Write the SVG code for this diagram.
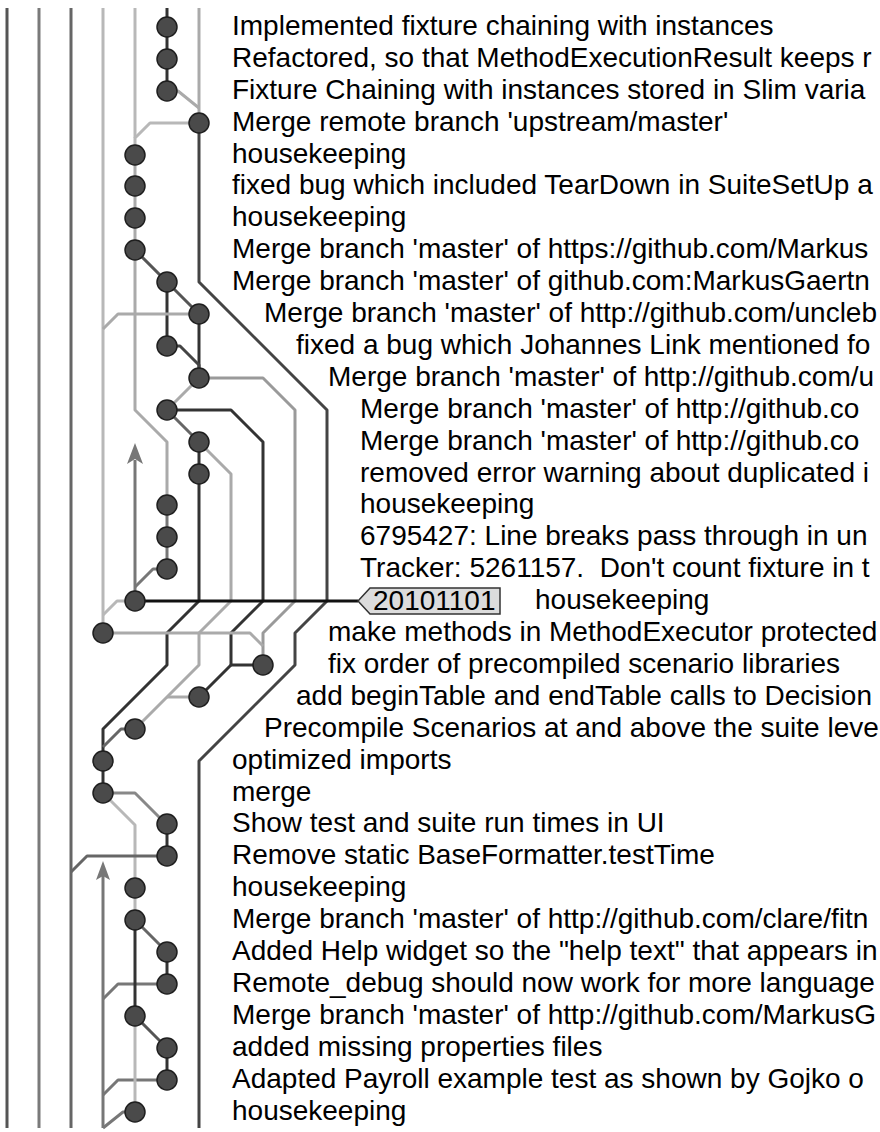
<svg xmlns="http://www.w3.org/2000/svg" width="880" height="1132" viewBox="0 0 880 1132">
<style>
.l{fill:none;stroke-width:3;stroke-linejoin:round;stroke-linecap:butt}
.dk{stroke:#333}
.d2{stroke:#444}
.md{stroke:#666}
.mg{stroke:#777}
.lt{stroke:#aaa}
.dt{stroke:#b8b8b8}
.n{fill:#4a4a4a;stroke:#1e1e1e;stroke-width:1.5}
.t{font-family:"Liberation Sans",Arial,Helvetica,sans-serif;font-size:28px;fill:#000;white-space:pre}
</style>
<rect width="880" height="1132" fill="#fff"/>
<g id="connectors">
<path class="l" stroke="#555" d="M7 8V1128"/>
<path class="l" stroke="#7a7a7a" d="M39 8V1128"/>
<path class="l" stroke="#666" d="M71 8V1128"/>
<path class="l dt" d="M103 8V633"/>
<path class="l dt" d="M103 615L117 601H126"/>
<path class="l dt" d="M135 8V138"/>
<path class="l dt" d="M199 123H150L135 138V155"/>
<path class="l dk" d="M167 8V91"/>
<path class="l lt" d="M199 8V123"/>
<path class="l lt" d="M167 91H178L199 108"/>
<path class="l d2" d="M199 123V282L327 410V601L295 633V665L199 761V1128"/>
<path class="l lt" d="M135 155V410L167 442V505"/>
<path class="l mg" d="M167 505V569"/>
<path class="l" stroke="#555" d="M135 250L199 314"/>
<path class="l dk" d="M167 282V346"/>
<path class="l dk" d="M199 314V378"/>
<path class="l d2" d="M167 346H180L199 365V378"/>
<path class="l lt" d="M103 329L118 314H199"/>
<path class="l" stroke="#9a9a9a" d="M199 378H263L295 410V601L263 633V665"/>
<path class="l lt" d="M199 378L167 410"/>
<path class="l dk" d="M167 410H231L263 442V601L231 633V665H263"/>
<path class="l dk" d="M231 665L199 697"/>
<path class="l md" d="M167 410L199 442"/>
<path class="l lt" d="M199 442L231 474V601L199 633V665L135 729"/>
<path class="l lt" d="M199 697H167"/>
<path class="l dk" d="M199 442V601L167 633V665L103 729V761"/>
<path class="l mg" d="M135 460V601"/>
<polygon fill="#777" points="135,443 143,464 135,459 127,464"/>
<path class="l mg" d="M167 569H153L135 587"/>
<path class="l" stroke="#111" d="M135 601H358"/>
<path class="l lt" d="M103 633H250L263 646"/>
<path class="l md" d="M135 729H121L103 747"/>
<path class="l dk" d="M103 761V793"/>
<path class="l" stroke="#888" d="M103 793H135L167 825"/>
<path class="l dt" d="M103 793L135 825V920"/>
<path class="l dk" d="M167 824V856"/>
<path class="l md" d="M167 856H87L71 872"/>
<path class="l mg" d="M103 875V1128"/>
<polygon fill="#777" points="103,861 110,880 103,876 96,880"/>
<path class="l mg" d="M167 984H118L103 999"/>
<path class="l mg" d="M167 1080H118L103 1095"/>
<path class="l mg" d="M135 1112H123L103 1128"/>
<path class="l md" d="M135 920L167 952"/>
<path class="l dk" d="M135 920V1016"/>
<path class="l dk" d="M167 952V984"/>
<path class="l" stroke="#555" d="M135 1016L167 1048"/>
<path class="l dk" d="M167 1048V1080"/>
<path class="l dt" stroke-width="2" d="M135 1016V1112"/>
</g>
<g id="tag-20101101">
<polygon points="358,601 370,588 500,588 500,614 370,614" fill="#dcdcdc" stroke="#333" stroke-width="1.5"/>
<text class="t" x="373" y="610" font-size="26">20101101</text>
</g>
<g id="n0"><circle class="n" cx="167" cy="27" r="10"/><text class="t" x="232" y="35">Implemented fixture chaining with instances</text></g>
<g id="n1"><circle class="n" cx="167" cy="59" r="10"/><text class="t" x="232" y="67">Refactored, so that MethodExecutionResult keeps r</text></g>
<g id="n2"><circle class="n" cx="167" cy="91" r="10"/><text class="t" x="232" y="99">Fixture Chaining with instances stored in Slim varia</text></g>
<g id="n3"><circle class="n" cx="199" cy="123" r="10"/><text class="t" x="232" y="131">Merge remote branch 'upstream/master'</text></g>
<g id="n4"><circle class="n" cx="135" cy="155" r="10"/><text class="t" x="232" y="163">housekeeping</text></g>
<g id="n5"><circle class="n" cx="135" cy="186" r="10"/><text class="t" x="232" y="194">fixed bug which included TearDown in SuiteSetUp a</text></g>
<g id="n6"><circle class="n" cx="135" cy="218" r="10"/><text class="t" x="232" y="226">housekeeping</text></g>
<g id="n7"><circle class="n" cx="135" cy="250" r="10"/><text class="t" x="232" y="258">Merge branch 'master' of https://github.com/Markus</text></g>
<g id="n8"><circle class="n" cx="167" cy="282" r="10"/><text class="t" x="232" y="290">Merge branch 'master' of github.com:MarkusGaertn</text></g>
<g id="n9"><circle class="n" cx="199" cy="314" r="10"/><text class="t" x="264" y="322">Merge branch 'master' of http://github.com/uncleb</text></g>
<g id="n10"><circle class="n" cx="167" cy="346" r="10"/><text class="t" x="296" y="354">fixed a bug which Johannes Link mentioned fo</text></g>
<g id="n11"><circle class="n" cx="199" cy="378" r="10"/><text class="t" x="328" y="386">Merge branch 'master' of http://github.com/u</text></g>
<g id="n12"><circle class="n" cx="167" cy="410" r="10"/><text class="t" x="360" y="418">Merge branch 'master' of http://github.co</text></g>
<g id="n13"><circle class="n" cx="199" cy="442" r="10"/><text class="t" x="360" y="450">Merge branch 'master' of http://github.co</text></g>
<g id="n14"><circle class="n" cx="199" cy="474" r="10"/><text class="t" x="360" y="482">removed error warning about duplicated i</text></g>
<g id="n15"><circle class="n" cx="167" cy="505" r="10"/><text class="t" x="360" y="513">housekeeping</text></g>
<g id="n16"><circle class="n" cx="167" cy="537" r="10"/><text class="t" x="360" y="545">6795427: Line breaks pass through in un</text></g>
<g id="n17"><circle class="n" cx="167" cy="569" r="10"/><text class="t" x="360" y="577">Tracker: 5261157.  Don't count fixture in t</text></g>
<g id="n18"><circle class="n" cx="135" cy="601" r="10"/><text class="t" x="535" y="609">housekeeping</text></g>
<g id="n19"><circle class="n" cx="103" cy="633" r="10"/><text class="t" x="328" y="641">make methods in MethodExecutor protected</text></g>
<g id="n20"><circle class="n" cx="263" cy="665" r="10"/><text class="t" x="328" y="673">fix order of precompiled scenario libraries</text></g>
<g id="n21"><circle class="n" cx="199" cy="697" r="10"/><text class="t" x="296" y="705">add beginTable and endTable calls to Decision</text></g>
<g id="n22"><circle class="n" cx="135" cy="729" r="10"/><text class="t" x="264" y="737">Precompile Scenarios at and above the suite leve</text></g>
<g id="n23"><circle class="n" cx="103" cy="761" r="10"/><text class="t" x="232" y="769">optimized imports</text></g>
<g id="n24"><circle class="n" cx="103" cy="793" r="10"/><text class="t" x="232" y="801">merge</text></g>
<g id="n25"><circle class="n" cx="167" cy="824" r="10"/><text class="t" x="232" y="832">Show test and suite run times in UI</text></g>
<g id="n26"><circle class="n" cx="167" cy="856" r="10"/><text class="t" x="232" y="864">Remove static BaseFormatter.testTime</text></g>
<g id="n27"><circle class="n" cx="135" cy="888" r="10"/><text class="t" x="232" y="896">housekeeping</text></g>
<g id="n28"><circle class="n" cx="135" cy="920" r="10"/><text class="t" x="232" y="928">Merge branch 'master' of http://github.com/clare/fitn</text></g>
<g id="n29"><circle class="n" cx="167" cy="952" r="10"/><text class="t" x="232" y="960">Added Help widget so the "help text" that appears in</text></g>
<g id="n30"><circle class="n" cx="167" cy="984" r="10"/><text class="t" x="232" y="992">Remote_debug should now work for more language</text></g>
<g id="n31"><circle class="n" cx="135" cy="1016" r="10"/><text class="t" x="232" y="1024">Merge branch 'master' of http://github.com/MarkusG</text></g>
<g id="n32"><circle class="n" cx="167" cy="1048" r="10"/><text class="t" x="232" y="1056">added missing properties files</text></g>
<g id="n33"><circle class="n" cx="167" cy="1080" r="10"/><text class="t" x="232" y="1088">Adapted Payroll example test as shown by Gojko o</text></g>
<g id="n34"><circle class="n" cx="135" cy="1112" r="10"/><text class="t" x="232" y="1120">housekeeping</text></g>
</svg>
